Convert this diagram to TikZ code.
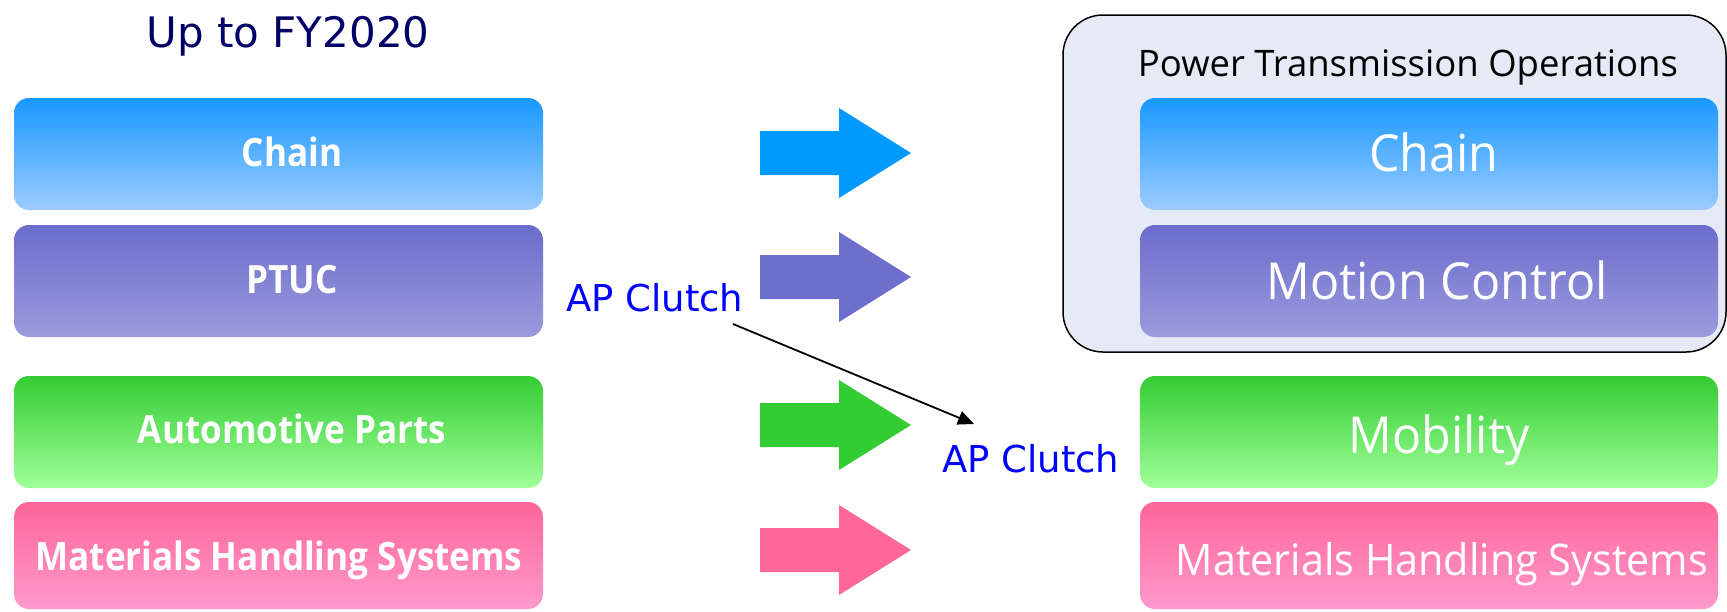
\documentclass[tikz,border=0pt]{standalone}
\usepackage{fontspec}
\setmainfont{Open Sans}
\newfontfamily\verd{DejaVu Sans}
\newfontfamily\boxreg[FakeStretch=0.95]{Open Sans}
\newfontfamily\contreg{Open Sans}
\newfontfamily\boxbold[FakeStretch=0.9]{Open Sans Bold}
\usetikzlibrary{arrows.meta}
\definecolor{navy}{RGB}{0,0,102}
\definecolor{apblue}{RGB}{0,0,255}
\definecolor{contfill}{RGB}{230,234,246}
\definecolor{chainTop}{RGB}{24,153,255}
\definecolor{chainBot}{RGB}{156,203,255}
\definecolor{ptucTop}{RGB}{108,108,204}
\definecolor{ptucBot}{RGB}{155,155,221}
\definecolor{autoTop}{RGB}{51,204,51}
\definecolor{autoBot}{RGB}{160,255,153}
\definecolor{mhsTop}{RGB}{255,102,153}
\definecolor{mhsBot}{RGB}{255,153,204}
\definecolor{chainArr}{RGB}{0,153,255}
\definecolor{ptucArr}{RGB}{110,110,204}
\definecolor{autoArr}{RGB}{51,204,51}
\definecolor{mhsArr}{RGB}{255,102,153}
\tikzset{
  box/.style={rounded corners=15pt, minimum height=112pt, inner sep=0pt, draw=none},
  lbox/.style={box, minimum width=529pt},
  rbox/.style={box, minimum width=578pt},
  chainfill/.style={top color=chainTop, bottom color=chainBot},
  ptucfill/.style={top color=ptucTop, bottom color=ptucBot},
  autofill/.style={top color=autoTop, bottom color=autoBot},
  mhsfill/.style={top color=mhsTop, bottom color=mhsBot},
  ltext/.style={anchor=base, inner sep=0pt, text=white, font=\boxbold\fontsize{39}{42}\selectfont},
  rtext/.style={anchor=base, inner sep=0pt, text=white, font=\boxreg\fontsize{51}{55}\selectfont},
  aplabel/.style={anchor=base west, inner sep=0pt, text=apblue, font=\verd\fontsize{37}{40}\selectfont},
  barrow/.pic={\path[pic actions] (-75.5,-22) -- (3.5,-22) -- (3.5,-45) -- (75.5,0) -- (3.5,45) -- (3.5,22) -- (-75.5,22) -- cycle;}
}
\begin{document}
\begin{tikzpicture}[x=1pt,y=-1pt]
\useasboundingbox[fill=white] (0,0) rectangle (1727,611);
% title
\node[anchor=base, inner sep=0pt, text=navy, font=\verd\fontsize{42}{46}\selectfont] (title) at (288,47) {Up to FY2020};
% left boxes
\node[lbox, chainfill] (lchain) at (278.5,154) {};
\node[lbox, ptucfill] (lptuc) at (278.5,281) {};
\node[lbox, autofill] (lauto) at (278.5,432) {};
\node[lbox, mhsfill, minimum height=107pt] (lmhs) at (278.5,555.5) {};
\node[ltext] (tlchain) at (292,166) {Chain};
\node[ltext] (tlptuc) at (292,293) {PTUC};
\node[ltext] (tlauto) at (292,443) {Automotive Parts};
\node[ltext] (tlmhs) at (279,570) {Materials Handling Systems};
% container
\node[draw=black, line width=1.5pt, fill=contfill, rounded corners=40pt, minimum width=663pt, minimum height=337pt, inner sep=0pt] (cont) at (1394.5,183.5) {};
\node[anchor=base, inner sep=0pt, text=black, font=\contreg\fontsize{36.5}{40}\selectfont] (conttitle) at (1408,76) {Power Transmission Operations};
% right boxes
\node[rbox, chainfill] (rchain) at (1429,154) {};
\node[rbox, ptucfill] (rmotion) at (1429,281) {};
\node[rbox, autofill] (rmob) at (1429,432) {};
\node[rbox, mhsfill, minimum height=107pt] (rmhs) at (1429,555.5) {};
\node[rtext] (trchain) at (1434,171) {Chain};
\node[rtext] (trmotion) at (1437,299) {Motion Control};
\node[rtext] (trmob) at (1439,453) {Mobility};
\node[rtext, font=\boxreg\fontsize{43.5}{46}\selectfont] (trmhs) at (1442,575) {Materials Handling Systems};
% block arrows
\pic[fill=chainArr] at (835.5,153) {barrow};
\pic[fill=ptucArr] at (835.5,277) {barrow};
\pic[fill=autoArr] at (835.5,425) {barrow};
\pic[fill=mhsArr] at (835.5,550) {barrow};
% AP Clutch
\node[aplabel] (apc1) at (566,311) {AP Clutch};
\node[aplabel] (apc2) at (942,472) {AP Clutch};
\coordinate (apstart) at (733,324);
\coordinate (apend) at (974,424);
\draw[line width=1.8pt, -{Triangle[length=16pt,width=14pt]}] (apstart) -- (apend);
\end{tikzpicture}
\end{document}
